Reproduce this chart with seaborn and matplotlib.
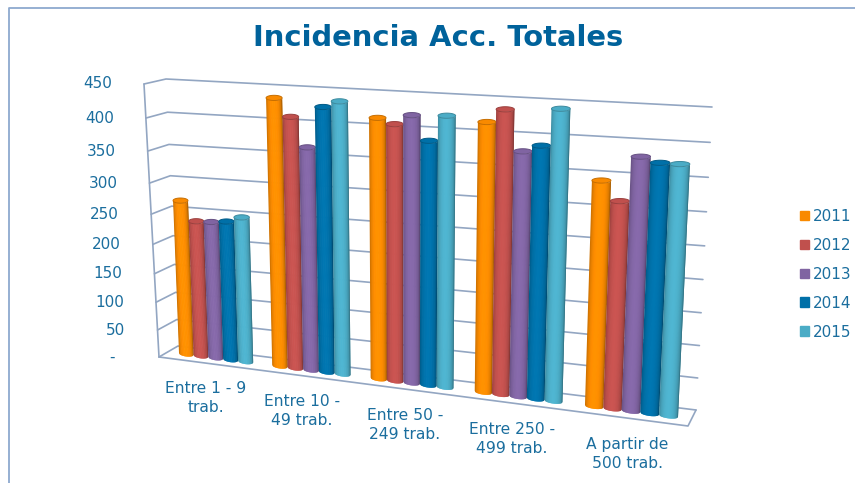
import numpy as np
import pandas as pd
import matplotlib
matplotlib.use("Agg")
import matplotlib.pyplot as plt
import seaborn as sns
from matplotlib.colors import to_rgb
from matplotlib.patches import Patch, Polygon
from matplotlib.transforms import Affine2D

# INPUT VALUES
categories = ["Entre 1 - 9\ntrab.", "Entre 10 -\n49 trab.", "Entre 50 -\n249 trab.",
              "Entre 250 -\n499 trab.", "A partir de\n500 trab."]
years = ["2011", "2012", "2013", "2014", "2015"]
v2011 = [260, 435, 413, 416, 341]
v2012 = [228, 407, 405, 436, 313]
v2013 = [229, 361, 420, 376, 379]
v2014 = [232, 425, 383, 386, 372]
v2015 = [241, 435, 422, 441, 372]
tick_values = [0, 50, 100, 150, 200, 250, 300, 350, 400, 450]
tick_labels = ["-", "50", "100", "150", "200", "250", "300", "350", "400", "450"]
colors = ["#F98A00", "#C0504D", "#8064A2", "#0070A8", "#4BACC6"]
title = "Incidencia Acc. Totales"
text_color = "#1B6E9E"
grid_color = "#93A6C2"

data = pd.DataFrame({"cat": categories * 5,
                     "year": np.repeat(years, 5),
                     "value": v2011 + v2012 + v2013 + v2014 + v2015})

sns.set_style("white")
plt.rcParams["font.family"] = ["DejaVu Sans"]
W, H = 855, 483
fig = plt.figure(figsize=(W / 100, H / 100), dpi=100)
ax = fig.add_axes([0, 0, 1, 1])
sns.barplot(data=data, x="cat", y="value", hue="year", order=categories, hue_order=years,
            palette=colors, width=0.8, legend=False, ax=ax)
ax.set_xlim(-0.4, 4.4)
ax.set_ylim(0, 450)
ax.set_axis_off()

# image pixels -> display
pix = Affine2D().scale(1, -1).translate(0, H)


def homography(src, dst):
    # plane mapping from 4 points
    A, b = [], []
    for (u, v), (x, y) in zip(src, dst):
        A.append([u, v, 1, 0, 0, 0, -u * x, -v * x])
        A.append([0, 0, 0, u, v, 1, -u * y, -v * y])
        b += [x, y]
    h = np.linalg.solve(np.array(A, float), np.array(b, float))
    m = np.append(h, 1).reshape(3, 3)

    def f(u, v):
        u, v = np.asarray(u, float), np.asarray(v, float)
        d = m[2, 0] * u + m[2, 1] * v + m[2, 2]
        return (m[0, 0] * u + m[0, 1] * v + m[0, 2]) / d, (m[1, 0] * u + m[1, 1] * v + m[1, 2]) / d
    return f


unit = [(0, 0), (1, 0), (0, 450), (1, 450)]
back_wall = homography(unit, [(178, 346), (696, 410), (166, 79), (712, 107)])
side_wall = homography(unit, [(159, 357), (178, 346), (144, 84), (166, 79)])
bar_plane = homography([(-0.4, 0), (4.4, 0), (-0.4, 450), (4.4, 450)],
                       [(179, 353), (678, 417), (168.5, 83), (692.5, 109)])


def line(pts, lw=1.2):
    xs, ys = zip(*pts)
    ax.plot(xs, ys, color=grid_color, lw=lw, transform=pix, clip_on=False, zorder=1)


# outer border
ax.plot([8.5, 8.5, W], [H, 8, 8], color="#8EA9CF", lw=1.3, transform=pix, clip_on=False)

# walls and floor
for v in tick_values:
    line([side_wall(0, v), side_wall(1, v), back_wall(1, v)])
line([side_wall(0, 0), side_wall(0, 450)])
line([(159, 357), (688, 426), (696, 410)])

# cylinders, from the bars seaborn laid out
n = 24
bulge = 2.6
for z, (cont, col) in enumerate(zip(ax.containers, colors)):
    base = np.array(to_rgb(col))
    for bar in cont:
        bar.set_visible(False)
        u0, du, val = bar.get_x(), bar.get_width(), bar.get_height()
        zo = 3 + z * 0.01
        edges = np.linspace(-1, 1, n + 1)
        # each strip reaches under the next one so no seams show
        for i in range(n):
            ts = edges[i:i + 3]
            arc = bulge * np.sqrt(np.clip(1 - ts ** 2, 0, 1))
            xb, yb = bar_plane(u0 + du * (ts + 1) / 2, 0 * ts)
            xt, yt = bar_plane(u0 + du * (ts + 1) / 2, 0 * ts + val)
            pts = np.r_[np.c_[xb, yb + arc], np.c_[xt, yt + arc][::-1]]
            tm = (edges[i] + edges[i + 1]) / 2
            shade = 0.66 + 0.40 * np.sqrt(np.clip(1 - (tm + 0.05) ** 2, 0, 1))
            ax.add_patch(Polygon(pts, closed=True, facecolor=np.clip(base * shade, 0, 1), edgecolor="none",
                                 transform=pix, zorder=zo, clip_on=False, snap=False))
        # top cap
        tt = np.linspace(0, 2 * np.pi, 40)
        cx, cy = bar_plane(u0 + du / 2, val)
        xl, _ = bar_plane(u0, val)
        xr, _ = bar_plane(u0 + du, val)
        cap = np.c_[cx + (xr - xl) / 2 * np.cos(tt), cy + bulge * np.sin(tt)]
        ax.add_patch(Polygon(cap, closed=True, facecolor=np.clip(base * 1.0, 0, 1),
                             edgecolor=base * 0.8, lw=0.7, transform=pix,
                             zorder=zo + 0.001, clip_on=False, snap=False))

# value labels follow the front edge of the side wall
for v, lab in zip(tick_values, tick_labels):
    x, y = side_wall(0, v)
    if lab == "-":
        x -= 12
    ax.text(x - 32, y, lab, color=text_color, fontsize=11, ha="right", va="center", transform=pix)

# category labels
label_x = [206, 302, 405, 512, 627]
label_y = [398, 411, 425, 439, 454]
for lab, x, y in zip(categories, label_x, label_y):
    ax.text(x, y, lab, color=text_color, fontsize=11.2, ha="center", va="center", linespacing=1.3,
            transform=pix)

ax.text(438.5, 38, title, color="#00629B", fontsize=20.9, fontweight="bold", ha="center", va="center",
        transform=pix)

handles = [Patch(color=c, label=y) for c, y in zip(colors, years)]
ax.legend(handles=handles, loc="upper left", bbox_to_anchor=(800 / W, 1 - 209 / H),
          bbox_transform=fig.transFigure, frameon=False, fontsize=11, labelcolor=text_color,
          handlelength=0.6, handleheight=0.6, handletextpad=0.25, labelspacing=0.91,
          borderpad=0, borderaxespad=0)

fig.savefig("out.png", dpi=100)
